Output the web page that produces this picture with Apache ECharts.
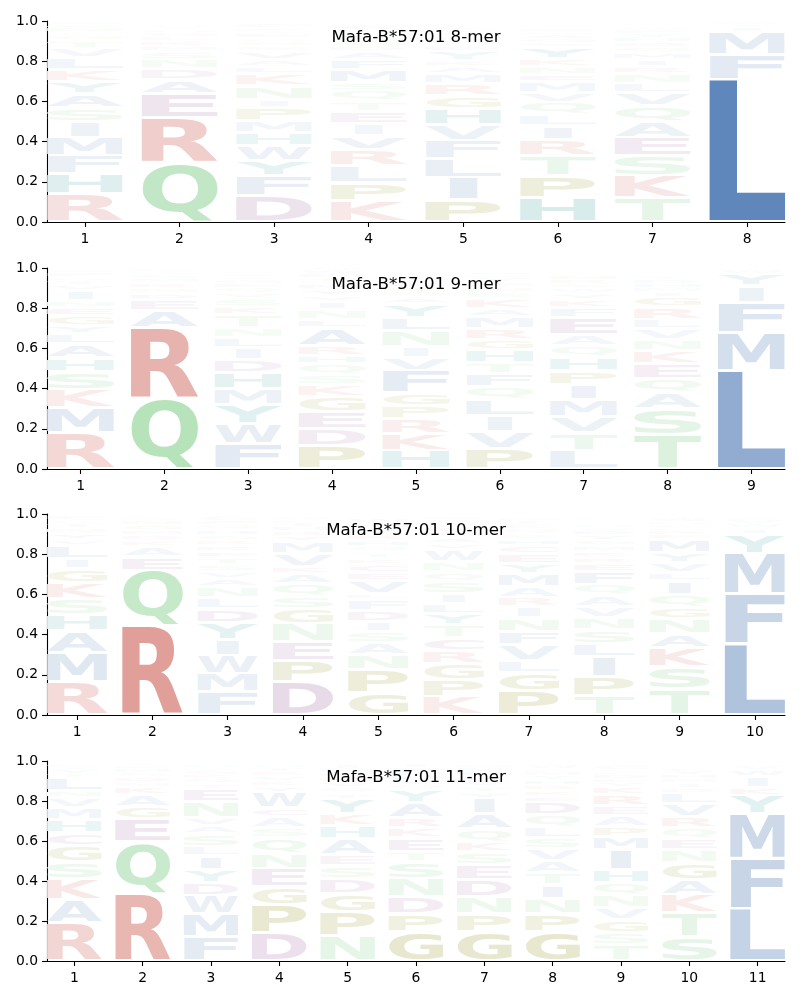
<!DOCTYPE html>
<html>
<head>
<meta charset="utf-8">
<script src="https://cdn.jsdelivr.net/npm/echarts@6/dist/echarts.min.js"></script>
<style>
html,body{margin:0;padding:0;background:#fff;}
#chart{width:800px;height:1000px;}
</style>
</head>
<body>
<div id="chart"></div>
<script>
// ---------- DATA (letter, height) bottom -> top, one array per position ----------
const titles = ['Mafa-B*57:01 8-mer', 'Mafa-B*57:01 9-mer', 'Mafa-B*57:01 10-mer', 'Mafa-B*57:01 11-mer'];

const mer8 = [
  [['R',.14],['H',.10],['F',.09],['M',.09],['I',.08],['S',.07],['A',.07],['Y',.06],['K',.06],['L',.06],['V',.045],['T',.04],['G',.02],['Q',.02],['N',.02],['E',.015],['W',.015]],
  [['Q',.295],['R',.225],['E',.12],['A',.07],['D',.055],['N',.045],['S',.04],['M',.025],['K',.025],['L',.02],['G',.02],['H',.015],['T',.015],['V',.01]],
  [['D',.13],['F',.10],['Y',.075],['W',.075],['H',.065],['M',.06],['P',.065],['I',.04],['N',.07],['K',.06],['L',.035],['A',.035],['V',.04],['S',.025],['G',.02],['Q',.02],['E',.02],['T',.015],['R',.015],['C',.02]],
  [['K',.105],['P',.09],['L',.085],['R',.08],['V',.07],['I',.06],['E',.06],['T',.05],['Q',.055],['S',.04],['M',.065],['F',.05],['A',.04],['D',.025],['G',.02],['N',.02],['H',.015],['Y',.015],['W',.01],['C',.02]],
  [['P',.11],['I',.11],['L',.095],['F',.09],['V',.08],['H',.08],['G',.065],['R',.06],['M',.05],['A',.035],['K',.03],['Y',.045],['E',.025],['Q',.025],['N',.02],['S',.02],['T',.015],['W',.015]],
  [['H',.12],['P',.11],['T',.10],['R',.08],['I',.07],['L',.055],['Q',.06],['V',.05],['M',.055],['E',.035],['N',.04],['K',.04],['Y',.055],['S',.02],['G',.02],['A',.02],['D',.015],['F',.015]],
  [['T',.12],['K',.11],['S',.10],['E',.09],['A',.08],['Q',.08],['V',.065],['L',.045],['N',.05],['R',.035],['I',.035],['M',.035],['G',.025],['D',.025],['H',.02],['Y',.02],['F',.02],['W',.015]],
  [['L',.71],['F',.125],['M',.11],['I',.025],['Y',.015],['W',.01]]
];

const mer9 = [
  [['R',.18],['M',.125],['K',.09],['S',.09],['H',.07],['A',.07],['L',.05],['Y',.04],['G',.05],['E',.04],['N',.035],['I',.05],['V',.025],['T',.02],['Q',.02],['F',.02],['W',.015]],
  [['Q',.35],['R',.35],['A',.09],['E',.055],['D',.03],['N',.025],['K',.025],['M',.02],['S',.02],['G',.015],['L',.015]],
  [['F',.125],['W',.10],['Y',.095],['M',.08],['H',.08],['D',.065],['I',.06],['L',.05],['N',.05],['T',.065],['K',.04],['S',.04],['V',.025],['Q',.025],['E',.02],['G',.02],['R',.015],['A',.015]],
  [['P',.115],['D',.085],['E',.085],['G',.075],['K',.06],['S',.05],['Q',.055],['H',.04],['R',.05],['A',.09],['L',.04],['N',.05],['I',.04],['V',.03],['Y',.03],['M',.03],['T',.025],['F',.02],['W',.02],['C',.015]],
  [['H',.09],['K',.085],['R',.075],['P',.065],['G',.065],['F',.11],['V',.065],['I',.055],['N',.08],['L',.065],['Y',.07],['A',.03],['Q',.025],['S',.025],['E',.02],['M',.02],['T',.02]],
  [['P',.10],['V',.085],['I',.08],['L',.08],['Q',.065],['F',.065],['T',.055],['H',.065],['G',.05],['R',.055],['M',.06],['A',.04],['K',.05],['S',.03],['N',.025],['E',.025],['Y',.02],['D',.015],['W',.015]],
  [['L',.09],['T',.09],['V',.08],['M',.085],['I',.075],['P',.07],['H',.07],['Q',.055],['A',.055],['E',.085],['F',.05],['K',.04],['Y',.03],['W',.025],['S',.02],['R',.02],['N',.02],['G',.015]],
  [['T',.17],['S',.13],['A',.08],['Q',.07],['E',.075],['K',.065],['N',.055],['V',.055],['L',.045],['R',.06],['G',.05],['I',.025],['M',.02],['H',.02],['D',.02],['Y',.015],['F',.01]],
  [['L',.49],['M',.19],['F',.15],['I',.08],['Y',.06],['W',.02]]
];

const mer10 = [
  [['R',.165],['M',.145],['A',.11],['H',.08],['S',.08],['K',.08],['G',.07],['I',.05],['L',.065],['V',.03],['Y',.03],['N',.025],['T',.02],['Q',.02],['F',.02]],
  [['R',.445],['Q',.275],['E',.07],['A',.05],['K',.03],['D',.025],['M',.025],['G',.025],['N',.02],['S',.015],['L',.01]],
  [['F',.115],['M',.09],['W',.09],['I',.08],['Y',.085],['D',.07],['L',.055],['N',.055],['A',.04],['V',.035],['S',.035],['T',.035],['E',.03],['K',.03],['R',.025],['G',.025],['H',.025],['Q',.025],['P',.02],['C',.02]],
  [['D',.165],['P',.105],['E',.095],['N',.09],['G',.075],['S',.06],['Q',.065],['A',.05],['K',.035],['V',.065],['M',.06],['Y',.025],['R',.025],['H',.02],['T',.02],['L',.015],['W',.015]],
  [['G',.11],['P',.115],['N',.075],['A',.06],['S',.055],['I',.05],['D',.055],['F',.055],['L',.03],['V',.065],['E',.04],['C',.04],['K',.03],['T',.03],['Q',.03],['H',.03],['R',.03],['Y',.03],['M',.025],['W',.025]],
  [['K',.09],['P',.085],['G',.08],['R',.065],['C',.065],['T',.065],['Y',.055],['L',.05],['I',.05],['S',.06],['Q',.05],['N',.05],['W',.06],['V',.03],['A',.03],['M',.025],['E',.025],['D',.02],['H',.015],['F',.015]],
  [['P',.12],['G',.09],['L',.06],['V',.08],['F',.065],['N',.07],['I',.055],['R',.045],['A',.055],['M',.065],['Y',.05],['E',.05],['C',.04],['H',.03],['S',.025],['Q',.025],['K',.02],['T',.02],['D',.015]],
  [['T',.095],['P',.095],['I',.10],['L',.065],['S',.07],['N',.06],['V',.055],['A',.055],['Q',.055],['F',.065],['E',.04],['R',.03],['K',.03],['M',.03],['G',.025],['Y',.025],['D',.02],['W',.015],['H',.015]],
  [['T',.13],['S',.11],['K',.095],['A',.07],['N',.075],['G',.055],['Q',.065],['I',.07],['L',.04],['V',.05],['Y',.05],['M',.065],['E',.02],['R',.02],['D',.015],['F',.015],['H',.015],['W',.02]],
  [['L',.355],['F',.25],['M',.20],['Y',.095],['I',.03],['W',.02],['V',.02],['K',.01]]
];

const mer11 = [
  [['R',.19],['A',.115],['K',.105],['S',.085],['G',.08],['C',.065],['H',.065],['M',.06],['V',.05],['N',.035],['L',.065],['T',.02],['Y',.02],['I',.015],['F',.015]],
  [['R',.335],['Q',.26],['E',.115],['G',.06],['A',.06],['K',.04],['N',.025],['D',.025],['S',.02],['M',.02],['L',.015],['T',.015]],
  [['F',.12],['M',.115],['W',.09],['D',.065],['Y',.065],['I',.07],['L',.045],['S',.065],['A',.04],['V',.04],['N',.08],['E',.065],['T',.025],['Q',.025],['K',.02],['G',.02],['R',.015],['H',.015]],
  [['D',.14],['P',.14],['G',.09],['E',.09],['N',.075],['Q',.08],['S',.05],['A',.055],['C',.045],['W',.08],['Y',.03],['K',.025],['V',.025],['R',.02],['T',.02],['H',.015]],
  [['N',.125],['P',.12],['G',.09],['D',.075],['S',.065],['E',.055],['A',.08],['H',.065],['K',.06],['Y',.075],['T',.03],['Q',.03],['V',.025],['R',.025],['L',.02],['M',.02],['I',.02]],
  [['G',.145],['P',.09],['D',.085],['N',.09],['S',.085],['T',.05],['E',.07],['K',.05],['R',.05],['A',.075],['Y',.065],['Q',.025],['V',.025],['H',.02],['L',.02],['M',.02],['I',.02]],
  [['G',.145],['P',.09],['N',.085],['D',.085],['E',.075],['S',.065],['K',.05],['Q',.065],['A',.075],['I',.08],['Y',.03],['T',.03],['V',.025],['R',.025],['H',.02],['L',.02],['M',.015]],
  [['G',.145],['P',.09],['N',.075],['I',.07],['T',.06],['A',.06],['V',.06],['S',.055],['L',.055],['Q',.06],['D',.065],['E',.03],['K',.03],['R',.025],['H',.025],['Y',.02],['M',.02],['F',.015],['W',.02]],
  [['T',.08],['S',.06],['G',.065],['V',.06],['N',.065],['Q',.06],['H',.065],['I',.10],['M',.065],['P',.05],['A',.055],['E',.05],['R',.055],['K',.04],['Y',.02],['L',.02],['D',.02],['F',.015],['W',.01],['C',.02]],
  [['S',.12],['T',.12],['K',.09],['A',.075],['G',.085],['N',.065],['E',.055],['Q',.055],['R',.055],['V',.065],['L',.055],['D',.025],['I',.025],['M',.02],['H',.02],['Y',.02],['F',.015]],
  [['L',.26],['F',.25],['M',.225],['Y',.09],['K',.04],['I',.055],['W',.035],['V',.02]]
];

const panels = [mer8, mer9, mer10, mer11];
const yTickValues = [0, 0.2, 0.4, 0.6, 0.8, 1.0];

// ---------- styling ----------
const ALPHA = 'ACDEFGHIKLMNPQRSTVWY';
const GROUP_COLORS = {
  blue:   [76, 120, 178],
  green:  [90, 190, 100],
  red:    [200, 82, 72],
  purple: [145, 80, 145],
  olive:  [128, 128, 0],
  teal:   [0, 128, 128]
};
const LETTER_GROUP = {
  A:'blue', V:'blue', L:'blue', I:'blue', M:'blue', F:'blue', W:'blue',
  S:'green', T:'green', N:'green', Q:'green',
  K:'red', R:'red',
  D:'purple', E:'purple', C:'purple',
  P:'olive', G:'olive',
  H:'teal', Y:'teal'
};
const FONT_FAMILY = '"DejaVu Sans"';
const FONT = 'bold 100px ' + FONT_FAMILY;
const HALF_W = 0.4;
const VSEP = 0.008;

// glyph metrics measured with the same font and the same baseline zrender uses ('middle')
const METRICS = {};
(function () {
  const c = document.createElement('canvas');
  c.width = 300; c.height = 300;
  const ctx = c.getContext('2d');
  ctx.font = FONT;
  ctx.textBaseline = 'middle';
  ctx.textAlign = 'left';
  for (const ch of ALPHA) {
    const m = ctx.measureText(ch);
    METRICS[ch] = {
      L: m.actualBoundingBoxLeft, R: m.actualBoundingBoxRight,
      A: m.actualBoundingBoxAscent, D: m.actualBoundingBoxDescent
    };
  }
})();
const E_WIDTH = METRICS.E.L + METRICS.E.R;

function letterColor(ch, h) {
  const base = GROUP_COLORS[LETTER_GROUP[ch]];
  const a = Math.min(1, 1.25 * h);
  const c = base.map(v => Math.round(255 - (255 - v) * a));
  return 'rgb(' + c.join(',') + ')';
}

function renderItem(params, api) {
  const x = api.value(0), y0 = api.value(1), y1 = api.value(2);
  const ch = ALPHA[api.value(3)];
  const h = y1 - y0;
  const pad = Math.min(VSEP, h * 0.25);
  const tl = api.coord([x - HALF_W, y1 - pad]);
  const br = api.coord([x + HALF_W, y0 + pad]);
  const rw = br[0] - tl[0], rh = br[1] - tl[1];
  if (rh <= 0.2) return null;
  const m = METRICS[ch];
  const gw = m.L + m.R, gh = m.A + m.D;
  const sx = rw / Math.max(gw, E_WIDTH);
  const sy = rh / gh;
  const left = tl[0] + (rw - gw * sx) / 2;
  return {
    type: 'text',
    x: left + m.L * sx,
    y: tl[1] + m.A * sy,
    scaleX: sx,
    scaleY: sy,
    silent: true,
    style: {
      text: ch, x: 0, y: 0,
      font: FONT, fontSize: 100, fontWeight: 'bold', fontFamily: FONT_FAMILY,
      fill: letterColor(ch, h),
      align: 'left', verticalAlign: 'middle'
    }
  };
}

// ---------- layout ----------
const GRID_TOPS = [21, 268, 514, 761];
const GRID_HEIGHTS = [201, 201, 201, 200];
const GRID_LEFT = 47, GRID_WIDTH = 738;

const grids = [], xAxes = [], yAxes = [], series = [], titleOpts = [];
panels.forEach((cols, pi) => {
  const n = cols.length;
  const positions = cols.map((_, i) => i + 1);
  grids.push({ left: GRID_LEFT, width: GRID_WIDTH, top: GRID_TOPS[pi], height: GRID_HEIGHTS[pi] });
  xAxes.push({
    gridIndex: pi, type: 'value', min: 0.6, max: n + 0.4,
    axisLine: { show: true, onZero: false, lineStyle: { color: '#000', width: 1.1 } },
    axisTick: { show: true, customValues: positions, length: 5, lineStyle: { color: '#000', width: 1.1 } },
    axisLabel: { customValues: positions, color: '#000', fontSize: 13.9, fontFamily: FONT_FAMILY, margin: 10 },
    splitLine: { show: false }
  });
  yAxes.push({
    gridIndex: pi, type: 'value', min: 0, max: 1,
    axisLine: { show: true, onZero: false, lineStyle: { color: '#000', width: 1.1 } },
    axisTick: { show: true, customValues: yTickValues, length: 5, lineStyle: { color: '#000', width: 1.1 } },
    axisLabel: { customValues: yTickValues, color: '#000', fontSize: 13.9, fontFamily: FONT_FAMILY, margin: 9,
                 formatter: v => Number(v).toFixed(1) },
    splitLine: { show: false }
  });
  const data = [];
  cols.forEach((col, ci) => {
    let y = 0;
    col.forEach(([ch, h]) => {
      data.push([ci + 1, y, y + h, ALPHA.indexOf(ch)]);
      y += h;
    });
  });
  series.push({
    type: 'custom', xAxisIndex: pi, yAxisIndex: pi,
    renderItem: renderItem, data: data, encode: { x: 0, y: [1, 2] },
    silent: true, animation: false
  });
  titleOpts.push({
    text: titles[pi], left: GRID_LEFT + GRID_WIDTH / 2, textAlign: 'center', top: GRID_TOPS[pi] + 8,
    padding: 0,
    textStyle: { fontSize: 16.67, fontWeight: 'normal', color: '#000', fontFamily: FONT_FAMILY }
  });
});

const chart = echarts.init(document.getElementById('chart'), null, { renderer: 'canvas' });
chart.setOption({
  backgroundColor: '#fff',
  animation: false,
  title: titleOpts,
  grid: grids,
  xAxis: xAxes,
  yAxis: yAxes,
  series: series
});
</script>
</body>
</html>
